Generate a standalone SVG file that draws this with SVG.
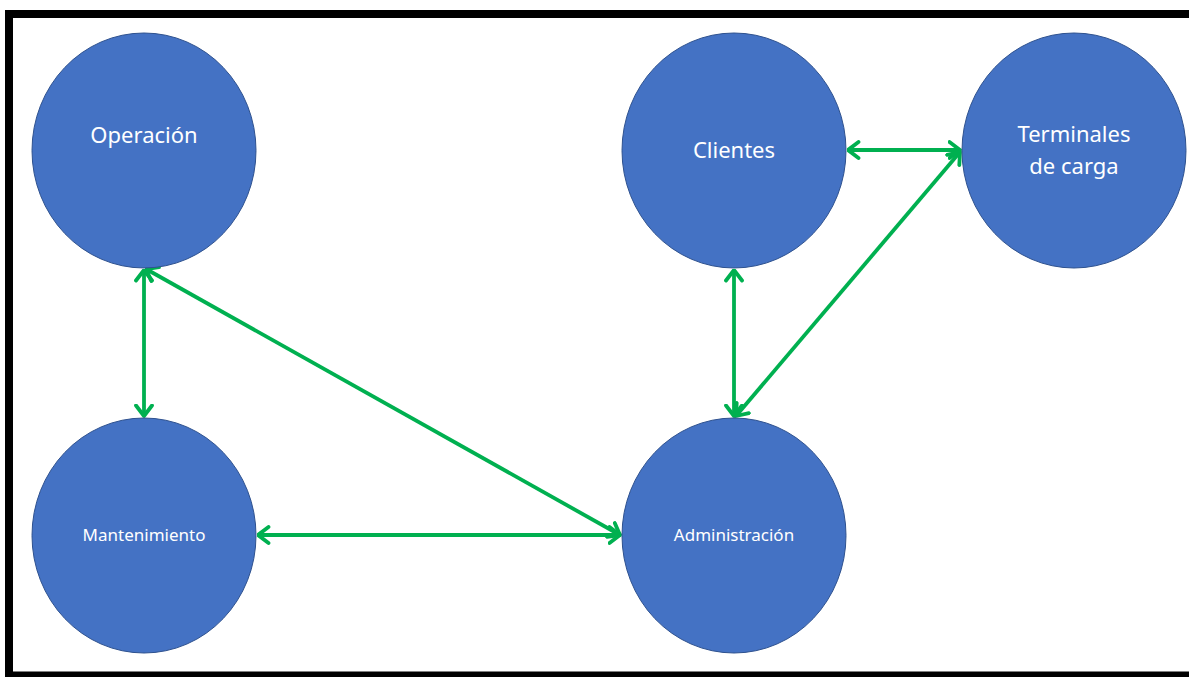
<svg xmlns="http://www.w3.org/2000/svg" width="1189" height="677" viewBox="0 0 1189 677">
  <style>
    .node { fill: #4472C4; stroke: #2F528F; stroke-width: 1; }
    .big { font-family: "Noto Sans", "Open Sans", sans-serif; font-size: 22px; fill: #ffffff; text-anchor: middle; }
    .small { font-family: "Noto Sans", "Open Sans", sans-serif; font-size: 17px; fill: #ffffff; text-anchor: middle; }
    .link { stroke: #00B050; stroke-width: 3.8; fill: none; marker-start: url(#chev); marker-end: url(#chev); }
  </style>
  <defs>
    <marker id="chev" viewBox="0 0 14 20" refX="12.5" refY="10" markerWidth="14" markerHeight="20" markerUnits="userSpaceOnUse" orient="auto-start-reverse">
      <path d="M2 2 L12.5 10 L2 18" fill="none" stroke="#00B050" stroke-width="3.8" stroke-linecap="round" stroke-linejoin="round"/>
    </marker>
  </defs>

  <rect width="1189" height="677" fill="#ffffff"/>
  <!-- frame -->
  <path d="M9 677 V14 H1189 M5 675.5 H1189" fill="none" stroke="#000000" stroke-width="8"/>

  <g id="connectors">
    <line class="link" x1="144" y1="270" x2="144" y2="416"/>
    <line class="link" x1="146" y1="269" x2="620" y2="535"/>
    <line class="link" x1="258" y1="535" x2="620" y2="535"/>
    <line class="link" x1="734" y1="270" x2="734" y2="416"/>
    <line class="link" x1="848" y1="150" x2="960" y2="150"/>
    <line class="link" x1="960" y1="152" x2="736" y2="416"/>
  </g>

  <g id="operacion">
    <ellipse class="node" cx="144" cy="150.5" rx="112" ry="117.5"/>
    <text class="big" x="144" y="143">Operación</text>
  </g>
  <g id="mantenimiento">
    <ellipse class="node" cx="144" cy="535.5" rx="112" ry="117.5"/>
    <text class="small" x="144" y="541">Mantenimiento</text>
  </g>
  <g id="clientes">
    <ellipse class="node" cx="734" cy="150.5" rx="112" ry="117.5"/>
    <text class="big" x="734" y="158">Clientes</text>
  </g>
  <g id="terminales">
    <ellipse class="node" cx="1074" cy="150.5" rx="112" ry="117.5"/>
    <text class="big" x="1074" y="142">Terminales</text>
    <text class="big" x="1074" y="174">de carga</text>
  </g>
  <g id="administracion">
    <ellipse class="node" cx="734" cy="535.5" rx="112" ry="117.5"/>
    <text class="small" x="734" y="541">Administración</text>
  </g>
</svg>
